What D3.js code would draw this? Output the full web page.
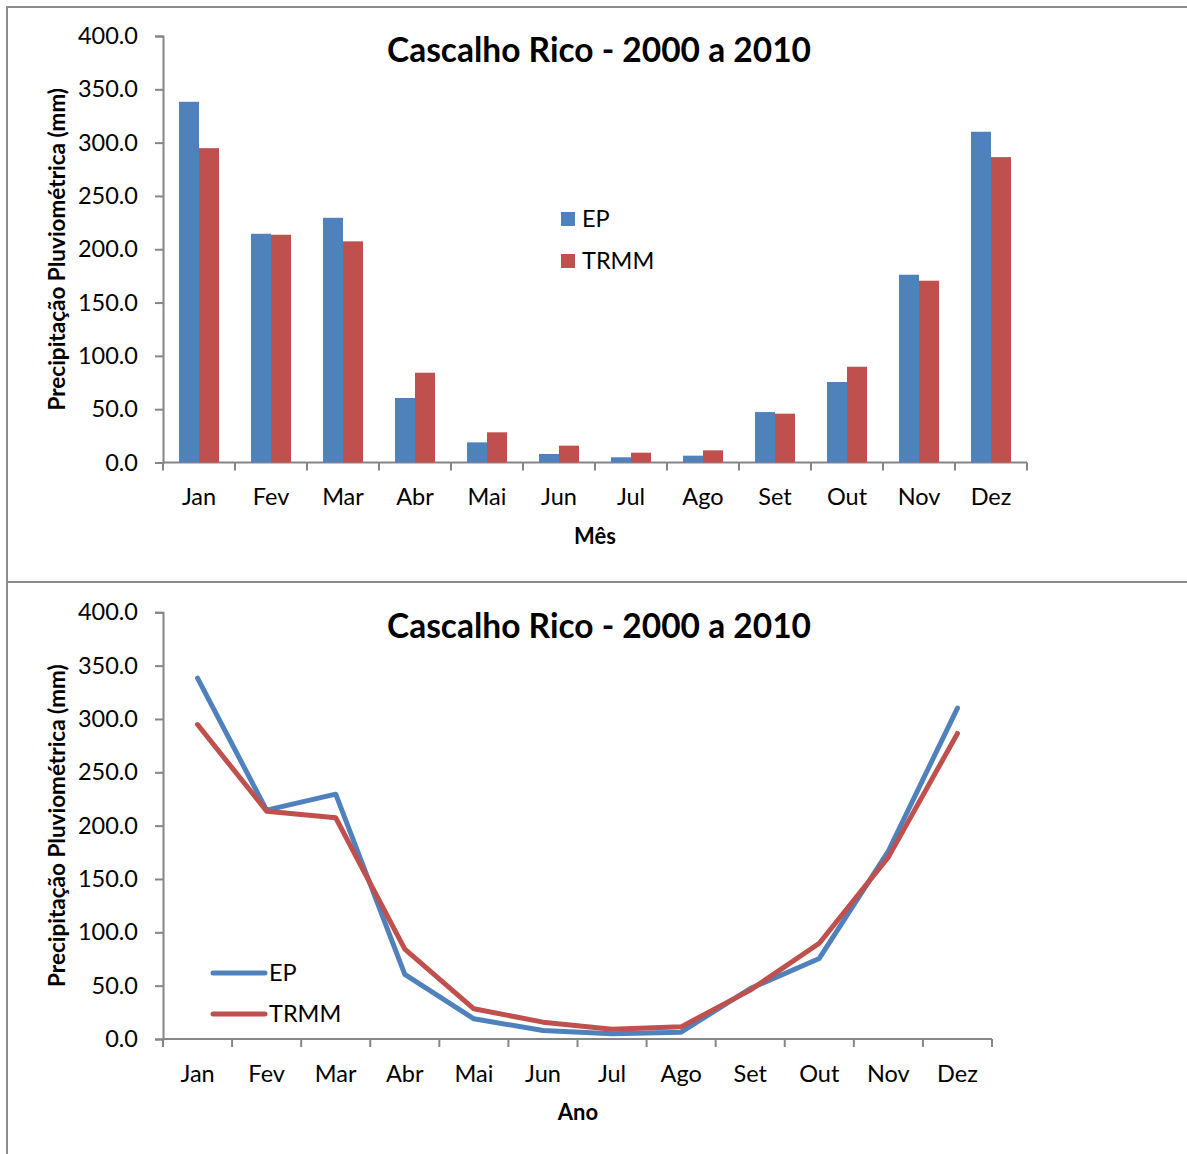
<!DOCTYPE html>
<html>
<head>
<meta charset="utf-8">
<script src="https://cdn.jsdelivr.net/npm/d3@7"></script>
<style>
  body { margin: 0; background: #fff; }
  svg { display: block; font-family: Lato, "Open Sans", sans-serif; }
</style>
</head>
<body>
<svg id="chart" width="1187" height="1154"></svg>
<script>
// Monthly precipitation, Cascalho Rico 2000–2010 (mm)
const months = ["Jan", "Fev", "Mar", "Abr", "Mai", "Jun", "Jul", "Ago", "Set", "Out", "Nov", "Dez"];
const epValues = [338.3, 214.5, 229.5, 60.5, 18.9, 8.0, 4.9, 6.4, 47.3, 75.5, 176.1, 310.2];
const trmmValues = [294.8, 213.6, 207.4, 84.2, 28.3, 15.8, 9.2, 11.4, 45.8, 89.8, 170.5, 286.4];
const seriesNames = ["EP", "TRMM"];
const yTicks = [0, 50, 100, 150, 200, 250, 300, 350, 400];
const chartTitle = "Cascalho Rico - 2000 a 2010";
const yLabel = "Precipitação Pluviométrica (mm)";

const colors = { EP: "#4F81BD", TRMM: "#C0504D" };
const axisColor = "#868686";
const labelSize = 23.5;
const series = [
  { name: seriesNames[0], values: epValues },
  { name: seriesNames[1], values: trmmValues }
];

const svg = d3.select("#chart");

// Outer frame and divider between the two panels
svg.append("line").attr("x1", 7).attr("x2", 1187).attr("y1", 7).attr("y2", 7)
  .attr("stroke", "#8c8c8c").attr("stroke-width", 2);
svg.append("line").attr("x1", 7).attr("x2", 7).attr("y1", 6).attr("y2", 1154)
  .attr("stroke", "#8c8c8c").attr("stroke-width", 2);
svg.append("line").attr("x1", 7).attr("x2", 1187).attr("y1", 582).attr("y2", 582)
  .attr("stroke", "#8c8c8c").attr("stroke-width", 2);

function styleAxis(g) {
  g.selectAll("path.domain").attr("stroke", axisColor).attr("stroke-width", 2);
  g.selectAll(".tick line").attr("stroke", axisColor).attr("stroke-width", 2);
  g.selectAll(".tick text").attr("fill", "#000").attr("font-size", labelSize)
    .attr("font-family", "Lato, sans-serif");
}

function drawFrame(opts) {
  const { left, right, top, bottom, titleY, xTitle, xTitleX, xTitleY } = opts;
  const y = d3.scaleLinear().domain([0, 400]).range([bottom, top]);
  const x = d3.scaleBand().domain(months).range([left, right]).padding(0);

  const yAxis = svg.append("g").attr("transform", `translate(${left},0)`)
    .call(d3.axisLeft(y).tickValues(yTicks).tickFormat(d3.format(".1f"))
      .tickSizeInner(8).tickSizeOuter(8).tickPadding(17));
  styleAxis(yAxis);

  // category boundary ticks along the x axis
  const xAxis = svg.append("g").attr("transform", `translate(0,${bottom})`)
    .call(d3.axisBottom(x).tickSize(0).tickPadding(26));
  styleAxis(xAxis);
  xAxis.select("path.domain").attr("d", `M${left},0H${right}`);
  const bounds = months.map((m) => x(m)).concat([right]);
  xAxis.selectAll("line.bound").data(bounds).join("line").attr("class", "bound")
    .attr("x1", (d) => d).attr("x2", (d) => d).attr("y1", 0).attr("y2", 8)
    .attr("stroke", axisColor).attr("stroke-width", 2);

  svg.append("text").attr("x", 599).attr("y", titleY).attr("text-anchor", "middle")
    .attr("font-weight", "bold").attr("font-size", 33.5).text(chartTitle);

  svg.append("text").attr("transform", `translate(65,${(top + bottom) / 2}) rotate(-90)`)
    .attr("text-anchor", "middle").attr("font-weight", "bold").attr("font-size", 22.5)
    .text(yLabel);

  svg.append("text").attr("x", xTitleX).attr("y", xTitleY).attr("text-anchor", "middle")
    .attr("font-weight", "bold").attr("font-size", 22).text(xTitle);

  return { x, y };
}

// ---- Column chart ----
const colChart = drawFrame({ left: 163, right: 1027, top: 36, bottom: 462.5, titleY: 62,
  xTitle: "Mês", xTitleX: 595, xTitleY: 544 });
const inner = d3.scaleBand().domain(seriesNames).range([0, 40]);
const barGroups = svg.append("g");
series.forEach((s) => {
  barGroups.append("g").selectAll("rect").data(s.values).join("rect")
    .attr("x", (d, i) => colChart.x(months[i]) + colChart.x.bandwidth() / 2 - 20 + inner(s.name))
    .attr("width", inner.bandwidth())
    .attr("y", (d) => colChart.y(d))
    .attr("height", (d) => colChart.y(0) - colChart.y(d))
    .attr("fill", colors[s.name]);
});

// legend for the column chart
const legTop = svg.append("g");
seriesNames.forEach((n, i) => {
  legTop.append("rect").attr("x", 561).attr("y", 212 + i * 42).attr("width", 14).attr("height", 14)
    .attr("fill", colors[n]);
  legTop.append("text").attr("x", 582).attr("y", 227 + i * 42).attr("font-size", labelSize).text(n);
});

// ---- Line chart ----
const lineChart = drawFrame({ left: 163, right: 992, top: 612.3, bottom: 1039, titleY: 638,
  xTitle: "Ano", xTitleX: 578, xTitleY: 1120 });
const line = d3.line()
  .x((d, i) => lineChart.x(months[i]) + lineChart.x.bandwidth() / 2)
  .y((d) => lineChart.y(d));
series.forEach((s) => {
  svg.append("path").datum(s.values).attr("d", line).attr("fill", "none")
    .attr("stroke", colors[s.name]).attr("stroke-width", 5)
    .attr("stroke-linecap", "round").attr("stroke-linejoin", "round");
});

// legend for the line chart
const legBot = svg.append("g");
seriesNames.forEach((n, i) => {
  legBot.append("line").attr("x1", 213).attr("x2", 265)
    .attr("y1", 973 + i * 41).attr("y2", 973 + i * 41)
    .attr("stroke", colors[n]).attr("stroke-width", 5).attr("stroke-linecap", "round");
  legBot.append("text").attr("x", 269).attr("y", 981 + i * 41).attr("font-size", labelSize).text(n);
});
</script>
</body>
</html>
